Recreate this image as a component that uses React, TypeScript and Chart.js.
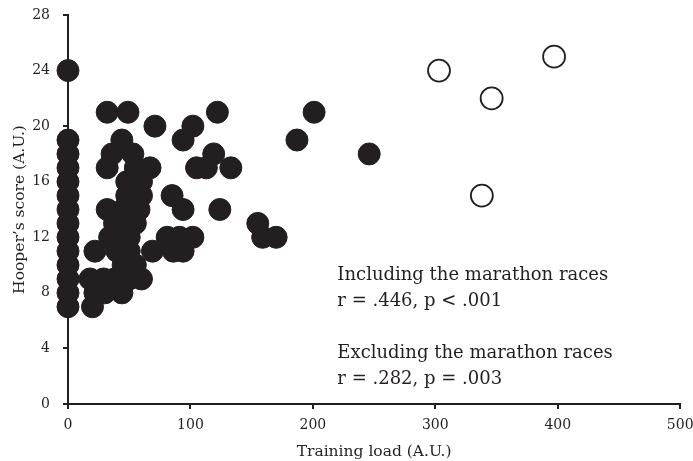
import React, { useEffect, useRef } from "react";
import { Chart, registerables } from "chart.js";

Chart.register(...registerables);

// Filled circles (regular training sessions): [training load, Hooper's score]
const sessionLoads: number[] = [
  0, 0, 0, 0, 0, 0, 0, 0, 0, 0, 0, 0, 0, 0,
  20, 22, 30, 44, 18, 29, 38, 50, 60,
  45, 50, 55,
  22, 40, 45, 50, 69, 86, 94,
  34, 40, 45, 50, 81, 91, 102, 159, 170,
  38, 45, 50, 55, 155,
  32, 45, 50, 58, 94, 124,
  48, 55, 60, 85,
  48, 52, 60,
  32, 55, 67, 105, 113, 133,
  36, 53, 119, 246,
  44, 94, 187,
  71, 102,
  32, 49, 122, 201,
];
const sessionScores: number[] = [
  7, 8, 9, 10, 11, 12, 13, 14, 15, 16, 17, 18, 19, 24,
  7, 8, 8, 8, 9, 9, 9, 9, 9,
  10, 10, 10,
  11, 11, 11, 11, 11, 11, 11,
  12, 12, 12, 12, 12, 12, 12, 12, 12,
  13, 13, 13, 13, 13,
  14, 14, 14, 14, 14, 14,
  15, 15, 15, 15,
  16, 16, 16,
  17, 17, 17, 17, 17, 17,
  18, 18, 18, 18,
  19, 19, 19,
  20, 20,
  21, 21, 21, 21,
];

// Open circles (marathon races)
const marathonLoads: number[] = [303, 338, 346, 397];
const marathonScores: number[] = [24, 15, 22, 25];

const xTicks: number[] = [0, 100, 200, 300, 400, 500];
const yTicks: number[] = [0, 4, 8, 12, 16, 20, 24, 28];

const annotationLines: string[] = [
  "Including the marathon races",
  "r = .446, p < .001",
  "",
  "Excluding the marathon races",
  "r = .282, p = .003",
];

const INK = "#231f20";
const FONT = "'DejaVu Serif', serif";

export default function App() {
  const canvasRef = useRef<HTMLCanvasElement | null>(null);

  useEffect(() => {
    document.body.style.margin = "0";
    const canvas = canvasRef.current;
    if (!canvas) return;

    const textPlugin = {
      id: "annotText",
      afterDraw(chart: any) {
        const ctx = chart.ctx;
        const xs = chart.scales.x;
        const area = chart.chartArea;
        ctx.save();
        ctx.fillStyle = INK;
        ctx.font = `18px ${FONT}`;
        ctx.textBaseline = "middle";
        ctx.textAlign = "left";
        const left = xs.getPixelForValue(220);
        const top = area.top + 260;
        annotationLines.forEach((line, i) => {
          if (line) ctx.fillText(line, left, top + i * 26);
        });
        ctx.restore();
      },
    };

    const chart = new Chart(canvas, {
      type: "scatter",
      data: {
        datasets: [
          {
            label: "Sessions",
            data: sessionLoads.map((x, i) => ({ x, y: sessionScores[i] })),
            backgroundColor: INK,
            borderColor: INK,
            borderWidth: 1,
            pointRadius: 11,
            pointHoverRadius: 11,
            clip: false as any,
          },
          {
            label: "Marathons",
            data: marathonLoads.map((x, i) => ({ x, y: marathonScores[i] })),
            backgroundColor: "#ffffff",
            borderColor: INK,
            borderWidth: 1.8,
            pointRadius: 11,
            pointHoverRadius: 11,
            clip: false as any,
          },
        ],
      },
      options: {
        animation: false,
        responsive: false,
        maintainAspectRatio: false,
        layout: { padding: { top: 15, right: 0, left: 0, bottom: 0 } },
        plugins: {
          legend: { display: false },
          tooltip: { enabled: false },
        },
        scales: {
          x: {
            type: "linear",
            min: 0,
            max: 500,
            afterBuildTicks: (s: any) => {
              s.ticks = xTicks.map((v) => ({ value: v }));
            },
            afterFit: (s: any) => {
              s.height = 57;
              s.paddingLeft = 0;
              s.paddingRight = 12;
            },
            border: { display: true, color: INK, width: 2 },
            grid: {
              display: true,
              drawOnChartArea: false,
              drawTicks: true,
              tickLength: 5,
              color: INK,
              lineWidth: 2,
            },
            ticks: {
              color: INK,
              font: { family: FONT, size: 14 },
              padding: 8,
              maxRotation: 0,
            },
            title: {
              display: true,
              text: "Training load (A.U.)",
              color: INK,
              font: { family: FONT, size: 15.5 },
              padding: { top: 4, bottom: 0 },
            },
          },
          y: {
            type: "linear",
            min: 0,
            max: 28,
            afterBuildTicks: (s: any) => {
              s.ticks = yTicks.map((v) => ({ value: v }));
            },
            afterFit: (s: any) => {
              s.width = 68;
              s.paddingTop = 0;
              s.paddingBottom = 0;
            },
            border: { display: true, color: INK, width: 2 },
            grid: {
              display: true,
              drawOnChartArea: false,
              drawTicks: true,
              tickLength: 5,
              color: INK,
              lineWidth: 2,
            },
            ticks: {
              color: INK,
              font: { family: FONT, size: 14 },
              padding: 13,
            },
            title: {
              display: true,
              text: "Hooper’s score (A.U.)",
              color: INK,
              font: { family: FONT, size: 15.5 },
              padding: { top: 11, bottom: 0 },
            },
          },
        },
      },
      plugins: [textPlugin],
    });

    return () => chart.destroy();
  }, []);

  return (
    <div style={{ width: 693, height: 461, background: "#fff" }}>
      <canvas ref={canvasRef} width={693} height={461} style={{ display: "block" }} />
    </div>
  );
}
